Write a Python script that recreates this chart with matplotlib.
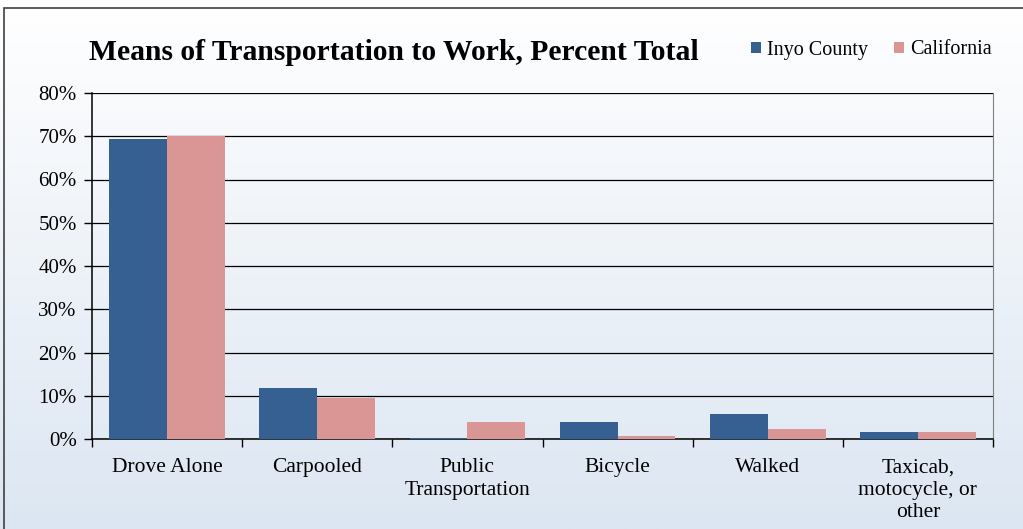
import numpy as np
import matplotlib.pyplot as plt
from matplotlib.patches import Rectangle

# data (percent of workers)
categories = ["Drove Alone", "Carpooled", "Public\nTransportation", "Bicycle",
              "Walked", "Taxicab,\nmotocycle, or\nother"]
inyo = [69.3, 11.8, 0.3, 4.0, 5.8, 1.6]
california = [70.0, 9.5, 4.0, 0.8, 2.4, 1.6]
series_names = ["Inyo County", "California"]
y_ticks = [0, 10, 20, 30, 40, 50, 60, 70, 80]

plt.rcParams['font.family'] = ['Liberation Serif', 'DejaVu Serif']

W, H = 1023, 529
fig = plt.figure(figsize=(W / 100, H / 100), dpi=100)

# gradient background
bg = fig.add_axes([0, 0, 1, 1], zorder=0)
grad = np.linspace(0, 1, 256).reshape(-1, 1)
top_c = np.array([1.0, 1.0, 1.0])
bot_c = np.array([0xdc, 0xe6, 0xf2]) / 255
img = top_c + (bot_c - top_c) * grad[:, :, None]
bg.imshow(img, aspect='auto', extent=[0, 1, 0, 1], origin='upper')
bg.set_xlim(0, 1)
bg.set_ylim(0, 1)
bg.axis('off')
# outer frame (left and top edges visible)
bg.add_patch(Rectangle((4 / W, -0.1), 1.2, 1 - 8 / H + 0.1, fill=False,
                       edgecolor='#404040', linewidth=1.2, transform=bg.transAxes))

ax = fig.add_axes([92 / W, 1 - 439 / H, (993 - 92) / W, (439 - 93) / H], zorder=1)
ax.patch.set_alpha(0)

x = np.arange(len(categories))
bw = 0.385
ax.bar(x - bw / 2, inyo, bw, color='#366092', label=series_names[0], zorder=3)
ax.bar(x + bw / 2, california, bw, color='#d99694', label=series_names[1], zorder=3)

ax.set_xlim(-0.5, len(categories) - 0.5)
ax.set_ylim(0, 80)
ax.set_yticks(y_ticks)
ax.set_yticklabels([f"{v}%" for v in y_ticks], fontsize=15)
ax.yaxis.grid(True, color='black', linewidth=0.9, zorder=0)
ax.set_axisbelow(True)

ax.set_xticks(x)
ax.set_xticklabels(categories, fontsize=15.5, linespacing=1.22)
ax.tick_params(axis='x', length=0, pad=14)
ax.set_xticks(np.arange(len(categories) + 1) - 0.5, minor=True)
ax.tick_params(axis='x', which='minor', length=6, width=1, color='black')
ax.tick_params(axis='y', length=6, width=1, color='black', pad=5)

for s in ['left', 'bottom']:
    ax.spines[s].set_color('black')
    ax.spines[s].set_linewidth(1.1)
ax.spines['top'].set_visible(False)
ax.spines['right'].set_color('#808080')

fig.text(89 / W, 1 - 52 / H, "Means of Transportation to Work, Percent Total",
         fontsize=21.3, fontweight='bold', va='center', ha='left')

leg = fig.legend(loc='center left', bbox_to_anchor=(743 / W, 1 - 50 / H), ncol=2,
                 frameon=False, fontsize=14.5, handlelength=0.5, handleheight=0.5,
                 handletextpad=0.3, columnspacing=1.3, borderaxespad=0)

fig.savefig("out.png", dpi=100)
